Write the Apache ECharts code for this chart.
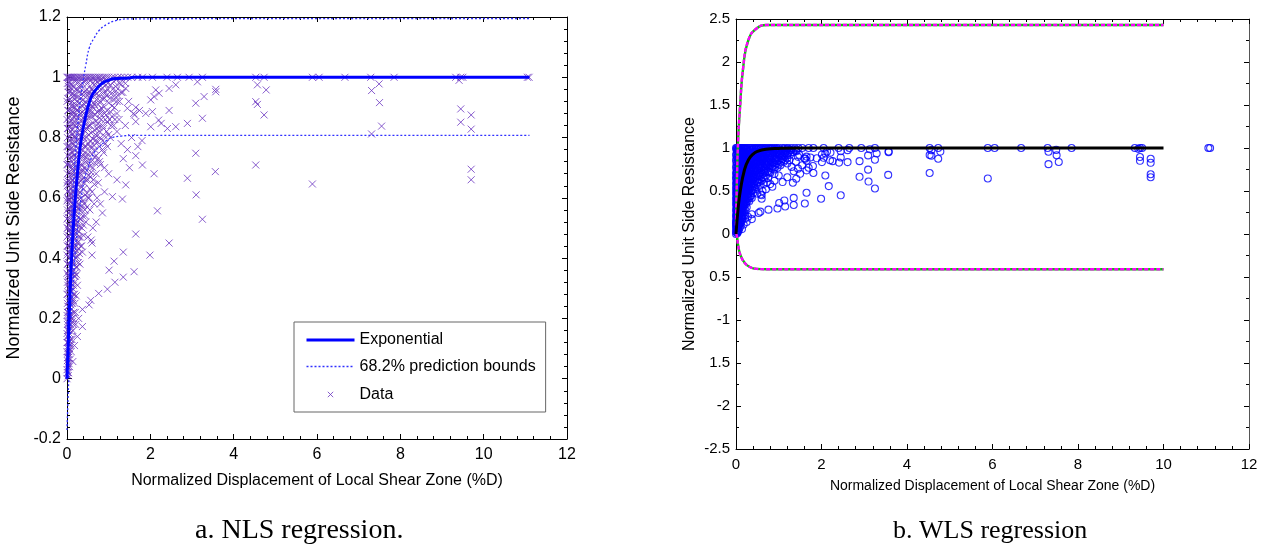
<!DOCTYPE html>
<html>
<head>
<meta charset="utf-8">
<script src="https://cdn.jsdelivr.net/npm/echarts@6/dist/echarts.min.js"></script>
<style>
    html, body { margin: 0; padding: 0; background: #fff; }
    #chart { width: 1269px; height: 550px; }
</style>
</head>
<body>
<div id="chart"></div>
<script>
    // measured points [displacement %D, normalized resistance], same test data in both panels
    var denseCluster = [
        [0,0],[0.01,0.02],[0.02,0.05],[0.03,0.01],[0.01,0.07],[0.04,0.09],[0.06,0.04],[0.02,0.1],[0.05,0.08],[0.07,0.11],[0,0.12],
        [0.01,0.14],[0.03,0.16],[0.06,0.15],[0.09,0.13],[0.02,0.19],[0.05,0.21],[0.08,0.18],[0.11,0.2],[0.04,0.24],[0.07,0.26],
        [0.1,0.23],[0.13,0.25],[0.16,0.22],[0.02,0.28],[0.06,0.3],[0.09,0.29],[0.12,0.27],[0.18,0.28],[0.01,0.22],[0.03,0.12],
        [0.01,0.32],[0.04,0.34],[0.08,0.33],[0.12,0.35],[0.15,0.31],[0.2,0.34],[0.02,0.38],[0.06,0.4],[0.1,0.37],[0.14,0.39],
        [0.18,0.41],[0.24,0.37],[0.03,0.44],[0.07,0.46],[0.11,0.43],[0.16,0.45],[0.22,0.44],[0.28,0.43],[0.01,0.5],[0.05,0.49],
        [0.09,0.52],[0.13,0.5],[0.17,0.48],[0.21,0.51],[0.26,0.49],[0.32,0.47],[0.03,0.55],[0.07,0.57],[0.11,0.54],[0.15,0.58],
        [0.19,0.55],[0.24,0.57],[0.3,0.56],[0.38,0.54],[0.02,0.6],[0.06,0.59],[0.1,0.6],[0.14,0.62],[0.27,0.61],[0.34,0.6],[0.42,0.58],
        [0.01,0.64],[0.04,0.66],[0.08,0.65],[0.12,0.68],[0.17,0.64],[0.22,0.67],[0.29,0.65],[0.36,0.69],[0.45,0.66],[0.55,0.63],
        [0.02,0.71],[0.06,0.73],[0.1,0.7],[0.15,0.74],[0.2,0.72],[0.26,0.75],[0.33,0.71],[0.4,0.74],[0.5,0.72],[0.62,0.7],[0.75,0.73],
        [0.03,0.77],[0.07,0.79],[0.12,0.78],[0.18,0.8],[0.24,0.79],[0.3,0.81],[0.38,0.78],[0.46,0.8],[0.55,0.77],[0.68,0.79],[0.85,0.76],
        [0.01,0.83],[0.05,0.85],[0.09,0.82],[0.14,0.86],[0.2,0.84],[0.27,0.87],[0.35,0.83],[0.43,0.86],[0.52,0.84],[0.6,0.87],
        [0.72,0.83],[0.82,0.86],[0.95,0.82],[0.04,0.89],[0.11,0.88],[0.17,0.9],[0.23,0.89],[0.31,0.9],[0.4,0.88],[0.48,0.9],
        [0.58,0.89],[0.66,0.91],[0.78,0.89],[0.9,0.88],[1.02,0.86],[1.12,0.84],
        [0.02,0.93],[0.07,0.95],[0.13,0.92],[0.19,0.94],[0.26,0.96],[0.33,0.93],[0.41,0.95],[0.5,0.94],[0.58,0.96],[0.67,0.94],
        [0.75,0.97],[0.84,0.93],[0.93,0.95],[1.03,0.93],[1.1,0.96],[1.2,0.92],[1.3,0.95],[0.05,0.98],[0.15,0.97],[0.23,0.99],
        [0.36,0.98],[0.46,0.99],[0.62,0.98],[0.8,0.99],[0.98,0.98],[1.16,0.97],
        [0,1],[0.04,1],[0.09,1],[0.14,1],[0.2,1],[0.27,1],[0.34,1],[0.42,1],[0.5,1],[0.58,1],[0.66,1],[0.75,1],[0.85,1],
        [0.95,1],[1.08,1],[1.22,1],[1.38,1],[1.55,1],[1.7,1],
        [0.45,0.52],[0.55,0.56],[0.5,0.47],[0.65,0.58],[0.72,0.6],[1,0.68],[0.9,0.62],[0.8,0.58],[1.2,0.66],[0.7,0.52],[0.62,0.5],[0.85,0.55]
    ];
    var denseCore = [
        [0,0.03],[0.02,0.04],[0.04,0.02],[0.01,0.06],[0.03,0.07],[0.05,0.05],[0.08,0.065],[0,0.09],[0.02,0.085],[0.06,0.1],[0.1,0.09],
        [0.01,0.12],[0.05,0.125],[0.08,0.115],[0.12,0.13],[0,0.15],[0.02,0.16],[0.04,0.145],[0.11,0.155],[0.14,0.16],
        [0.01,0.18],[0.03,0.185],[0.06,0.175],[0.13,0.19],[0.16,0.18],[0,0.21],[0.03,0.22],[0.07,0.205],[0.09,0.215],[0.14,0.2],[0.2,0.22],
        [0.01,0.25],[0.02,0.24],[0.05,0.255],[0.09,0.245],[0.15,0.26],[0.19,0.25],[0,0.28],[0.04,0.285],[0.08,0.27],[0.11,0.29],[0.15,0.28],[0.22,0.275],
        [0.02,0.31],[0.05,0.32],[0.07,0.305],[0.1,0.315],[0.13,0.3],[0.18,0.32],[0.25,0.31],
        [0,0.35],[0.03,0.345],[0.06,0.355],[0.09,0.34],[0.16,0.36],[0.19,0.35],[0.23,0.345],
        [0.01,0.38],[0.04,0.385],[0.08,0.375],[0.12,0.39],[0.17,0.38],[0.21,0.37],[0.27,0.385],[0.31,0.38],
        [0,0.41],[0.02,0.42],[0.05,0.405],[0.09,0.415],[0.13,0.41],[0.2,0.42],[0.25,0.405],[0.3,0.415],
        [0.01,0.44],[0.04,0.445],[0.06,0.435],[0.09,0.45],[0.14,0.44],[0.19,0.435],[0.25,0.45],[0.35,0.44],
        [0,0.47],[0.03,0.475],[0.08,0.465],[0.12,0.48],[0.15,0.47],[0.2,0.465],[0.24,0.48],[0.28,0.47],[0.4,0.475],
        [0.02,0.5],[0.04,0.51],[0.07,0.495],[0.11,0.505],[0.16,0.5],[0.19,0.51],[0.23,0.495],[0.29,0.505],[0.36,0.5],
        [0,0.53],[0.03,0.535],[0.06,0.525],[0.13,0.54],[0.17,0.53],[0.22,0.525],[0.27,0.535],[0.33,0.53],[0.44,0.54],
        [0.01,0.56],[0.05,0.565],[0.09,0.555],[0.12,0.57],[0.17,0.56],[0.21,0.555],[0.26,0.565],[0.35,0.56],[0.48,0.57],
        [0,0.59],[0.03,0.595],[0.08,0.585],[0.12,0.6],[0.18,0.59],[0.22,0.585],[0.3,0.595],[0.38,0.59],[0.5,0.6],
        [0.02,0.62],[0.04,0.625],[0.08,0.615],[0.11,0.63],[0.16,0.62],[0.2,0.61],[0.24,0.625],[0.31,0.62],[0.4,0.63],[0.48,0.615],[0.6,0.62],
        [0,0.65],[0.03,0.655],[0.06,0.645],[0.14,0.66],[0.19,0.65],[0.25,0.645],[0.33,0.655],[0.41,0.65],[0.5,0.66],[0.66,0.645],
        [0.01,0.68],[0.05,0.685],[0.09,0.675],[0.15,0.69],[0.18,0.68],[0.24,0.675],[0.29,0.685],[0.32,0.68],[0.4,0.69],[0.52,0.675],[0.58,0.685],[0.7,0.68],
        [0,0.71],[0.03,0.715],[0.08,0.705],[0.12,0.72],[0.17,0.71],[0.23,0.705],[0.28,0.715],[0.37,0.71],[0.45,0.72],[0.55,0.705],[0.68,0.715],[0.8,0.71],
        [0.02,0.74],[0.06,0.745],[0.1,0.735],[0.13,0.75],[0.19,0.74],[0.22,0.735],[0.31,0.745],[0.35,0.74],[0.43,0.75],[0.47,0.735],[0.6,0.745],[0.7,0.74],[0.88,0.75],
        [0,0.77],[0.04,0.775],[0.09,0.765],[0.15,0.78],[0.21,0.77],[0.27,0.765],[0.34,0.775],[0.42,0.77],[0.51,0.78],[0.59,0.765],[0.64,0.775],[0.78,0.77],[0.92,0.78],
        [0.01,0.8],[0.06,0.805],[0.1,0.795],[0.14,0.81],[0.22,0.8],[0.28,0.795],[0.35,0.805],[0.4,0.8],[0.52,0.81],[0.62,0.795],[0.72,0.805],[0.8,0.8],[1,0.81],
        [0.03,0.83],[0.07,0.835],[0.12,0.825],[0.17,0.84],[0.25,0.83],[0.3,0.825],[0.39,0.835],[0.47,0.83],[0.56,0.84],[0.66,0.825],[0.76,0.835],[0.88,0.83],[1.06,0.84],
        [0,0.86],[0.04,0.865],[0.09,0.855],[0.16,0.87],[0.22,0.86],[0.33,0.855],[0.38,0.865],[0.48,0.86],[0.55,0.87],[0.7,0.855],[0.78,0.865],[0.92,0.86],[1.08,0.87],
        [0.02,0.89],[0.08,0.895],[0.13,0.885],[0.19,0.9],[0.26,0.89],[0.36,0.885],[0.44,0.895],[0.53,0.89],[0.62,0.9],[0.72,0.885],[0.84,0.895],[0.96,0.89],[1.14,0.9],
        [0,0.92],[0.05,0.925],[0.1,0.915],[0.17,0.93],[0.23,0.92],[0.3,0.915],[0.38,0.925],[0.45,0.92],[0.55,0.93],[0.63,0.915],[0.71,0.925],[0.8,0.92],[0.9,0.93],[1,0.915],[1.12,0.925],[1.26,0.92],
        [0.03,0.95],[0.08,0.955],[0.13,0.945],[0.21,0.96],[0.29,0.95],[0.36,0.945],[0.44,0.955],[0.53,0.95],[0.61,0.96],[0.7,0.945],[0.79,0.955],[0.88,0.95],[0.98,0.96],[1.06,0.945],[1.18,0.955],[1.34,0.95],
        [0.01,0.98],[0.06,0.985],[0.11,0.975],[0.18,0.99],[0.25,0.98],[0.33,0.975],[0.4,0.985],[0.49,0.98],[0.57,0.99],[0.65,0.975],[0.73,0.985],[0.86,0.98],[0.94,0.99],[1.04,0.975],[1.13,0.985],[1.27,0.98],
        [0.02,1],[0.07,1],[0.12,1],[0.17,1],[0.24,1],[0.31,1],[0.38,1],[0.46,1],[0.54,1],[0.62,1],[0.7,1],[0.79,1],[0.9,1],[1,1],[1.14,1],[1.3,1],[1.46,1]
    ];
    var denseFill = [
        [0.05,0.36],[0.11,0.33],[0.17,0.34],[0.07,0.42],[0.15,0.43],[0.22,0.4],[0.27,0.455],[0.33,0.44],[0.1,0.48],[0.18,0.52],
        [0.25,0.52],[0.31,0.53],[0.39,0.51],[0.14,0.55],[0.2,0.58],[0.28,0.58],[0.36,0.575],[0.43,0.56],[0.08,0.61],[0.18,0.63],
        [0.26,0.6],[0.35,0.635],[0.44,0.61],[0.53,0.6],[0.12,0.66],[0.22,0.66],[0.3,0.67],[0.38,0.665],[0.47,0.69],[0.56,0.67],
        [0.63,0.66],[0.75,0.65],[0.16,0.7],[0.25,0.7],[0.32,0.73],[0.42,0.7],[0.5,0.745],[0.58,0.72],[0.66,0.735],[0.78,0.72],
        [0.9,0.7],[0.08,0.76],[0.17,0.76],[0.26,0.78],[0.36,0.76],[0.46,0.77],[0.56,0.79],[0.67,0.76],[0.74,0.785],[0.86,0.79],
        [0.97,0.77],[0.12,0.81],[0.25,0.815],[0.33,0.8],[0.44,0.82],[0.58,0.815],[0.68,0.81],[0.77,0.82],[0.9,0.805],[1.04,0.8],
        [0.07,0.84],[0.19,0.85],[0.29,0.845],[0.41,0.85],[0.5,0.835],[0.62,0.85],[0.74,0.845],[0.85,0.84],[0.97,0.85],[1.15,0.86],
        [0.15,0.88],[0.22,0.875],[0.33,0.88],[0.47,0.875],[0.57,0.88],[0.67,0.875],[0.8,0.88],[0.94,0.875],[1.05,0.885],[1.2,0.88],
        [0.1,0.905],[0.2,0.91],[0.35,0.905],[0.42,0.91],[0.5,0.91],[0.6,0.905],[0.75,0.91],[0.87,0.905],[1.08,0.905],[1.22,0.94],
        [0.16,0.94],[0.25,0.935],[0.4,0.94],[0.48,0.96],[0.56,0.94],[0.65,0.955],[0.76,0.94],[0.85,0.965],[0.95,0.94],[1.15,0.94],
        [1.4,0.98],[0.09,0.965],[0.31,0.965],[0.68,0.99],[0.83,0.995],[1.2,0.995],[0.03,0.97]
    ];
    var lowerBranch = [
        [0.14,0.057],[0.18,0.11],[0.25,0.14],[0.21,0.18],[0.37,0.173],[0.28,0.2],[0.37,0.23],[0.53,0.245],[0.57,0.26],
        [0.76,0.283],[0.97,0.297],[1.15,0.32],[1.35,0.337],[1.61,0.355],
        [0.58,0.46],[0.6,0.45],[0.6,0.41],[0.37,0.42],[1.01,0.36],[1.13,0.39],[1.35,0.42],[1.65,0.48],[1.99,0.41],[2.45,0.45]
    ];
    var spreadPoints = [
        [0.935,0.975],[1.29,0.975],[1.41,0.963],[1.45,0.897],[1.65,0.9],[1.74,0.89],[1.62,0.875],[1.65,0.853],[1.89,0.88],
        [2.01,0.925],[2.09,0.936],[2.13,0.958],[2.21,0.947],[2.45,0.963],[2.61,0.975],[2.05,0.886],[2.2,0.858],[2.26,0.847],
        [2.01,0.836],[2.41,0.83],[2.61,0.836],[2.45,0.89],[2.89,0.847],[3.09,0.914],[3.29,0.936],[3.57,0.952],[3.57,0.96],
        [3.25,0.864],[3.09,0.748],[3.56,0.687],[2.89,0.665],[3.1,0.61],[3.25,0.529],[2.17,0.557],[1.41,0.643],[1.33,0.596],
        [1.09,0.604],[2.09,0.68],[1.81,0.709],[1.2,0.82],[1.3,0.78],[1.45,0.76],[1.55,0.8],[1.7,0.77],[1.35,0.73],[1.5,0.7],
        [1.65,0.74],[1.8,0.79],[1.25,0.86],[1.4,0.84],[1.6,0.88],[1.48,0.92],
        [4.53,0.709],[4.53,0.919],[4.57,0.975],[4.73,0.875],[4.78,0.958],[4.57,0.91],
        [5.89,0.646],[7.31,0.956],[7.49,0.978],[7.5,0.916],[7.55,0.838],[7.31,0.812],
        [9.45,0.895],[9.7,0.875],[9.45,0.851],[9.7,0.828],[9.7,0.695],[9.7,0.66]
    ];
    var plateauPoints = [
        [1.81,1],[2.05,1],[2.4,1],[2.65,1],[2.93,1],[3.13,0.985],[3.25,1],[4.53,1],[4.73,1],[5.89,1],[6.05,1],[6.67,1],
        [7.29,1],[7.85,1],[9.33,1],[9.41,0.99],[9.45,1],[9.5,1],[11.05,1],[11.09,1]
    ];

    // fitted curves
    var nlsFit = [[0,0],[0.05,0.2],[0.1,0.37],[0.15,0.5],[0.2,0.6],[0.25,0.68],[0.3,0.75],[0.35,0.8],[0.4,0.84],[0.5,0.9],
        [0.6,0.94],[0.7,0.96],[0.8,0.975],[0.9,0.985],[1,0.99],[1.1,0.995],[1.5,0.998],[1.6,1],[11.1,1]];
    var nlsUpper = [[0,0.17],[0.1,0.5],[0.2,0.74],[0.3,0.9],[0.4,1],[0.45,1.04],[0.54,1.1],[0.65,1.13],[0.78,1.157],
        [0.95,1.175],[1.17,1.188],[1.5,1.194],[11.1,1.195]];
    var nlsLower = [[0,-0.17],[0.05,0.03],[0.1,0.2],[0.15,0.32],[0.2,0.42],[0.3,0.56],[0.4,0.65],[0.5,0.7],[0.65,0.75],
        [0.78,0.77],[0.95,0.79],[1.09,0.8],[1.3,0.805],[1.6,0.807],[11.1,0.807]];
    var wlsFit = [[0,0],[0.05,0.3],[0.1,0.5],[0.2,0.75],[0.3,0.87],[0.4,0.93],[0.5,0.96],[0.7,0.985],[1,0.995],[1.5,1],[10,1]];
    var wlsUpper = [[0,0.1],[0.02,0.6],[0.05,1.09],[0.09,1.44],[0.17,1.945],[0.29,2.256],[0.48,2.39],[0.72,2.43],[10,2.43]];
    var wlsLower = [[0,0],[0.02,-0.02],[0.05,-0.13],[0.1,-0.24],[0.21,-0.34],[0.35,-0.39],[0.48,-0.405],[0.72,-0.41],[10,-0.41]];

    // tick labels of the WLS y axis, bottom to top, as printed
    var wlsYLabels = ['-2.5','-2','1.5','-1','0.5','0','0.5','1','1.5','2','2.5'];

    var allPoints = denseCluster.concat(denseCore, denseFill, lowerBranch, spreadPoints, plateauPoints);
    var FONT = 'Liberation Sans, Arial, sans-serif';
    var SERIF = 'Liberation Serif, Times New Roman, serif';
    var crossPath = 'path://M0,0L10,10M10,0L0,10';
    var boundBlue = '#3030ff';

    function frameAxis(grid, pos, extra) {
        var ax = {
            type: 'value', gridIndex: grid, position: pos,
            axisLine: { show: true, onZero: false, lineStyle: { color: '#000', width: 1 } },
            axisTick: { show: true, inside: true, length: 5, lineStyle: { color: '#000' } },
            minorTick: { show: true, splitNumber: 5, length: 3, lineStyle: { color: '#000' } },
            splitLine: { show: false },
            axisLabel: { show: false }
        };
        return Object.assign(ax, extra);
    }

    function wlsBound(name, color, dash, data) {
        return {
            name: name, type: 'line', xAxisIndex: 2, yAxisIndex: 2,
            symbol: 'none', smooth: true,
            lineStyle: { color: color, width: 2.4, type: dash },
            data: data
        };
    }

    var chart = echarts.init(document.getElementById('chart'));
    chart.setOption({
        animation: false,
        title: [
            { text: 'a. NLS regression.', left: 190, top: 512,
              textStyle: { fontFamily: SERIF, fontSize: 28, fontWeight: 'normal', color: '#000' } },
            { text: 'b. WLS regression', left: 888, top: 513,
              textStyle: { fontFamily: SERIF, fontSize: 26, fontWeight: 'normal', color: '#000' } }
        ],
        grid: [
            { left: 67, top: 17, width: 500, height: 422 },
            { left: 736, top: 19, width: 513, height: 430 }
        ],
        legend: {
            left: 294, top: 322, orient: 'vertical',
            itemWidth: 48, itemHeight: 14, itemGap: 10.5,
            padding: [10, 10, 8, 11],
            borderColor: '#666', borderWidth: 1, backgroundColor: '#fff',
            selectedMode: false,
            textStyle: { fontFamily: FONT, fontSize: 16, color: '#000' },
            data: [
                { name: 'Exponential', lineStyle: { width: 3, color: '#0000ff' }, itemStyle: { opacity: 0 } },
                { name: '68.2% prediction bounds', lineStyle: { width: 1.3, color: boundBlue, type: [2, 2] }, itemStyle: { opacity: 0 } },
                { name: 'Data', icon: 'path://M-8,-8M18,18M0,0L10,10M10,0L0,10',
                  itemStyle: { color: 'none', borderColor: '#6a35c0', borderWidth: 1 } }
            ]
        },
        xAxis: [
            frameAxis(0, 'bottom', {
                min: 0, max: 12, interval: 2,
                name: 'Normalized Displacement of Local Shear Zone (%D)',
                nameLocation: 'middle', nameGap: 34,
                nameTextStyle: { fontFamily: FONT, fontSize: 16, color: '#000' },
                axisLabel: { show: true, margin: 8, fontFamily: FONT, fontSize: 16, color: '#000' }
            }),
            frameAxis(0, 'top', { min: 0, max: 12, interval: 2 }),
            frameAxis(1, 'bottom', {
                min: 0, max: 12, interval: 2,
                name: 'Normalized Displacement of Local Shear Zone (%D)',
                nameLocation: 'middle', nameGap: 30,
                nameTextStyle: { fontFamily: FONT, fontSize: 14, color: '#000' },
                axisLabel: { show: true, margin: 8, fontFamily: FONT, fontSize: 15, color: '#000' }
            }),
            frameAxis(1, 'top', { min: 0, max: 12, interval: 2 })
        ],
        yAxis: [
            frameAxis(0, 'left', {
                min: -0.2, max: 1.2, interval: 0.2,
                name: 'Normalized Unit Side Resistance',
                nameLocation: 'middle', nameGap: 44,
                nameTextStyle: { fontFamily: FONT, fontSize: 18, color: '#000' },
                axisLabel: { show: true, margin: 6, fontFamily: FONT, fontSize: 16, color: '#000' }
            }),
            frameAxis(0, 'right', { min: -0.2, max: 1.2, interval: 0.2 }),
            frameAxis(1, 'left', {
                min: -2.5, max: 2.5, interval: 0.5,
                minorTick: { show: true, splitNumber: 2, length: 3, lineStyle: { color: '#000' } },
                name: 'Normalized Unit Side Resistance',
                nameLocation: 'middle', nameGap: 38,
                nameTextStyle: { fontFamily: FONT, fontSize: 16, color: '#000' },
                axisLabel: {
                    show: true, margin: 6, fontFamily: FONT, fontSize: 15, color: '#000',
                    formatter: function (v) { return wlsYLabels[Math.round((v + 2.5) / 0.5)]; }
                }
            }),
            frameAxis(1, 'right', {
                min: -2.5, max: 2.5, interval: 0.5,
                axisLine: { show: true, onZero: false, lineStyle: { color: '#555', width: 1 } },
                minorTick: { show: true, splitNumber: 2, length: 3, lineStyle: { color: '#000' } }
            })
        ],
        series: [
            {
                name: 'Data', type: 'scatter', xAxisIndex: 0, yAxisIndex: 0,
                symbol: crossPath, symbolSize: 7,
                itemStyle: { color: 'none', borderColor: '#6a35c0', borderWidth: 1 },
                data: allPoints
            },
            {
                name: '68.2% prediction bounds', type: 'line', xAxisIndex: 0, yAxisIndex: 0,
                symbol: 'none', smooth: true,
                lineStyle: { color: boundBlue, width: 1.3, type: [2, 2] },
                itemStyle: { color: boundBlue },
                data: nlsUpper
            },
            {
                name: '68.2% prediction bounds', type: 'line', xAxisIndex: 0, yAxisIndex: 0,
                symbol: 'none', smooth: true,
                lineStyle: { color: boundBlue, width: 1.3, type: [2, 2] },
                itemStyle: { color: boundBlue },
                data: nlsLower
            },
            {
                name: 'Exponential', type: 'line', xAxisIndex: 0, yAxisIndex: 0,
                symbol: 'none', smooth: true,
                lineStyle: { color: '#0000ff', width: 3 },
                itemStyle: { color: '#0000ff' },
                data: nlsFit
            },
            wlsBound('WLS upper green', '#00d000', 'solid', wlsUpper),
            wlsBound('WLS upper', '#ff00ff', [4, 2], wlsUpper),
            wlsBound('WLS lower green', '#00d000', 'solid', wlsLower),
            wlsBound('WLS lower', '#ff00ff', [4, 2], wlsLower),
            {
                name: 'WLS fit', type: 'line', xAxisIndex: 2, yAxisIndex: 2,
                symbol: 'none', smooth: true,
                lineStyle: { color: '#000', width: 3 },
                data: wlsFit
            },
            {
                name: 'WLS data', type: 'scatter', xAxisIndex: 2, yAxisIndex: 2,
                symbol: 'circle', symbolSize: 7,
                itemStyle: { color: 'none', borderColor: '#0000ff', borderWidth: 1.1 },
                data: allPoints
            }
        ]
    });
    window.addEventListener('resize', function () {
        chart.resize();
    });
</script>
</body>
</html>
